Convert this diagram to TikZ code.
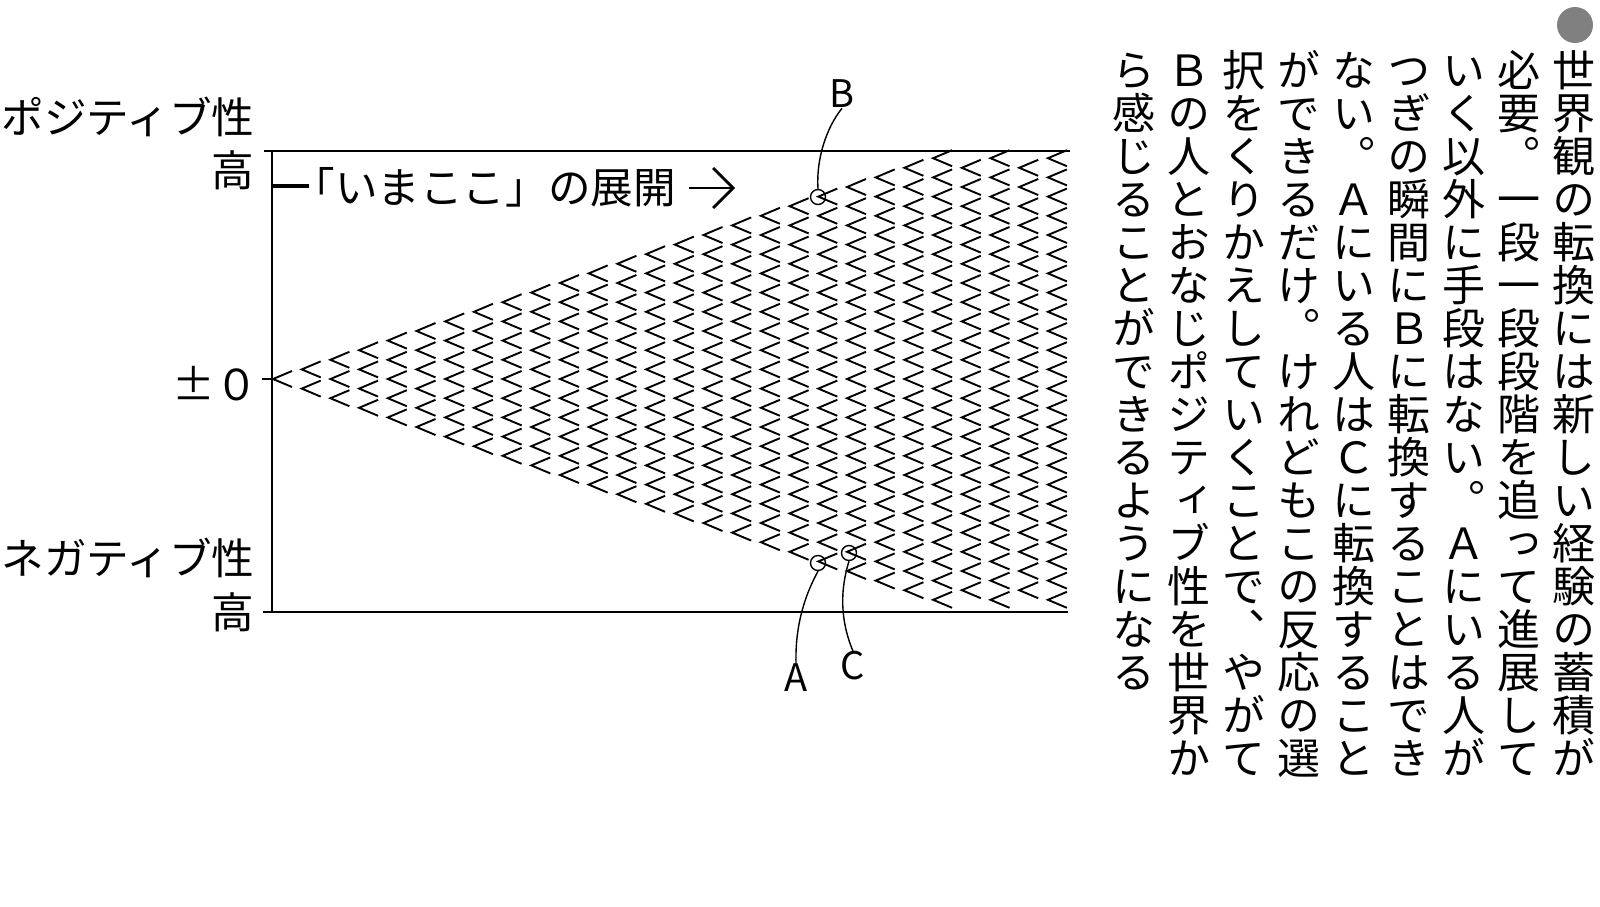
\documentclass[tikz,border=0pt]{standalone}
\usepackage{fontspec}
\usepackage{tikz}
\usetikzlibrary{arrows.meta}
\newfontfamily\jp{Noto Sans CJK JP}
\newfontfamily\jpv[RawFeature=+vert]{Noto Sans CJK JP}
% 一文字ずつ縦に積む
\newcommand\tate[1]{\vbox{\offinterlineskip\tatex#1\relax}}
\def\tatex#1{\ifx#1\relax\else\hbox to 1em{\vrule height .88em depth .12em width 0pt\hss#1\hss}\expandafter\tatex\fi}

\begin{document}
\begin{tikzpicture}[x=0.5pt,y=-0.5pt,
  lbl/.style={font=\jp\fontsize{21.3pt}{24pt}\selectfont,inner sep=0pt},
  abc/.style={font=\jp\fontsize{19pt}{22pt}\selectfont,inner sep=0pt},
  vcol/.style={font=\jpv\fontsize{21.5pt}{24pt}\selectfont,anchor=north,inner sep=0pt},
  pt/.style={circle,draw,line width=0.7pt,minimum size=7.5pt,inner sep=0pt},
  ptr/.style={line width=0.7pt},
  chev/.style={line width=0.95pt}]
  \useasboundingbox (0,0) rectangle (1600,906);

  % 枠と目盛
  \draw[line width=1pt] (264,151) -- (1070,151);
  \draw[line width=1pt] (263,612) -- (1068,612);
  \draw[line width=1pt] (272,151) -- (272,612);
  \draw[line width=1pt] (262,379) -- (272,379);

  % 軸ラベル
  \node[lbl,anchor=east] (poslab) at (255,117) {ポジティブ性};
  \node[lbl,anchor=east] (hightop) at (254,170) {高};
  \node[lbl,anchor=east] (zero) at (258,384) {±０};
  \node[lbl,anchor=east] (neglab) at (255,558) {ネガティブ性};
  \node[lbl,anchor=east] (highbot) at (254,612) {高};

  % 「いまここ」の展開
  \draw[line width=2pt] (272,186) -- (309,186);
  \node[lbl,anchor=west] (ima) at (292,187) {「いまここ」の展開};
  \coordinate (arrS) at (689,188);
  \coordinate (arrE) at (735,188);
  \draw[line width=1.4pt,-{Straight Barb[length=10pt,width=20pt]}] (arrS) -- (arrE);

  % 反応の広がり（＜の並び）
  \foreach \n in {0,...,27}{
    \foreach \k in {0,...,\n}{
      \pgfmathsetmacro\cx{273+\n*28.7}
      \pgfmathsetmacro\cy{379+(\k-\n/2)*19.2}
      \pgfmathtruncatemacro\ok{(\cy>156)&&(\cy<606)}
      \ifnum\ok=1
        \draw[chev] (\cx+19,\cy-8) -- (\cx,\cy) -- (\cx+19,\cy+8);
      \fi
    }
  }

  % A, B, C
  \node[pt] (ptB) at (818,197) {};
  \node[pt] (ptA) at (818,563) {};
  \node[pt] (ptC) at (849,553) {};
  \node[abc] (labB) at (842,94) {B};
  \node[abc] (labA) at (796,678) {A};
  \node[abc] (labC) at (853,666) {C};
  \draw[ptr] (labB.south) .. controls (826,128) and (816,160) .. (ptB.north);
  \draw[ptr] (ptA.south) .. controls (805,595) and (795,625) .. (labA.north);
  \draw[ptr] (ptC.south) .. controls (840,590) and (840,620) .. (labC.north);

  % 本文（縦組み）
  \node[circle,fill=black!50,minimum size=18pt,inner sep=0pt] (dot) at (1575,25) {};
  \foreach \t [count=\i] in {世界観の転換には新しい経験の蓄積が,
    必要。一段一段段階を追って進展して,
    いく以外に手段はない。Ａにいる人が,
    つぎの瞬間にＢに転換することはでき,
    ない。Ａにいる人はＣに転換すること,
    ができるだけ。けれどもこの反応の選,
    択をくりかえしていくことで、やがて,
    Ｂの人とおなじポジティブ性を世界か,
    ら感じることができるようになる}
    \node[vcol] (col\i) at ({1574-(\i-1)*55},48) {\expandafter\tate\expandafter{\t}};
\end{tikzpicture}
\end{document}
